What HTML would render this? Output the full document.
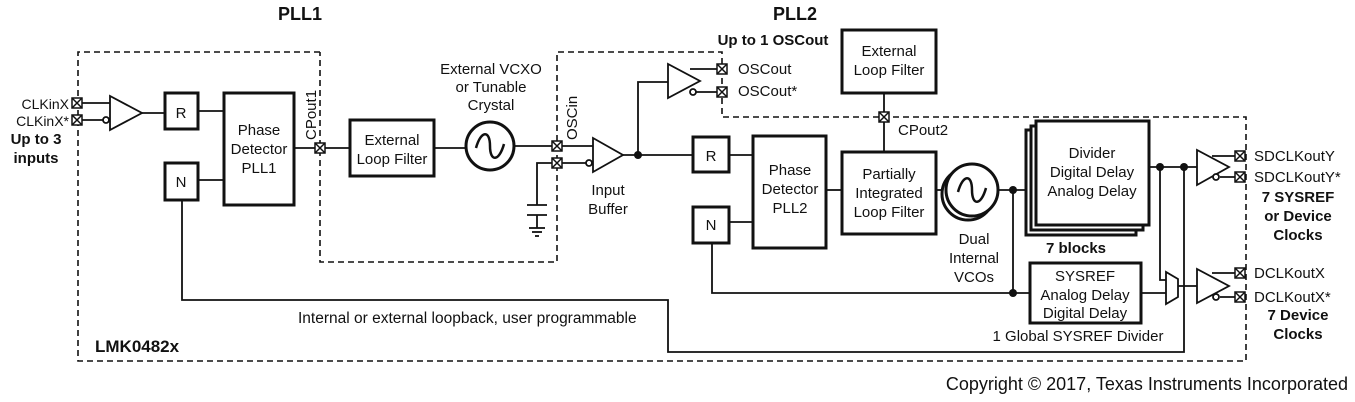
<!DOCTYPE html>
<html><head><meta charset="utf-8"><style>
html,body{margin:0;padding:0;background:#fff}
svg{display:block}
text{font-family:"Liberation Sans",sans-serif;font-size:15px;fill:#111}
.b{font-weight:bold}
</style></head><body>
<svg width="1355" height="402" viewBox="0 0 1355 402" xmlns="http://www.w3.org/2000/svg">
<defs>
<g id="p"><rect x="-5" y="-5" width="10" height="10"/><path d="M-5,-5 L5,5 M5,-5 L-5,5"/></g>
</defs>
<g fill="none" stroke="#111" stroke-width="1.6" stroke-dasharray="6,4">
<polyline points="320,52 78,52 78,361 1246,361 1246,117 722,117 722,52 557,52 557,262 320,262 320,52"/>
</g>
<g fill="none" stroke="#111" stroke-width="1.8">
<polyline points="80,103 110,103"/>
<polyline points="80,120 106,120"/>
<polygon points="110,96 110,130 142,113"/>
<line x1="142" y1="113" x2="165" y2="113"/>
<line x1="198" y1="111" x2="224" y2="111"/>
<line x1="198" y1="180" x2="224" y2="180"/>
<line x1="294" y1="148" x2="350" y2="148"/>
<line x1="434" y1="148" x2="466" y2="148"/>
<line x1="514" y1="146" x2="593" y2="146"/>
<polyline points="557,163 537,163 537,205"/>
<line x1="527" y1="205" x2="547" y2="205"/>
<line x1="527" y1="215" x2="547" y2="215"/>
<polyline points="537,215 537,228"/>
<line x1="529" y1="228" x2="545" y2="228"/>
<line x1="532" y1="232" x2="542" y2="232"/>
<line x1="535" y1="236" x2="539" y2="236"/>
<line x1="557" y1="163" x2="589" y2="163"/>
<polygon points="593,138 593,172 623,155"/>
<line x1="623" y1="155" x2="693" y2="155"/>
<polyline points="638,155 638,82 668,82"/>
<polygon points="668,64 668,98 700,81"/>
<line x1="690" y1="69" x2="722" y2="69"/>
<line x1="694" y1="92" x2="722" y2="92"/>
<line x1="884" y1="93" x2="884" y2="152"/>
<line x1="729" y1="155" x2="753" y2="155"/>
<line x1="729" y1="222" x2="753" y2="222"/>
<line x1="826" y1="190" x2="842" y2="190"/>
<line x1="936" y1="190" x2="945" y2="190"/>
<line x1="999" y1="190" x2="1036" y2="190"/>
<polyline points="712,243 712,293 1030,293"/>
<line x1="1013" y1="190" x2="1013" y2="293"/>
<line x1="1149" y1="167" x2="1197" y2="167"/>
<polygon points="1197,150 1197,185 1229,167"/>
<line x1="1212" y1="156" x2="1240" y2="156"/>
<line x1="1220" y1="177" x2="1240" y2="177"/>
<polyline points="1160,167 1160,280 1166,280"/>
<line x1="1141" y1="293" x2="1166" y2="293"/>
<polygon points="1166,272 1166,304 1178,297 1178,279"/>
<line x1="1178" y1="286" x2="1197" y2="286"/>
<polygon points="1197,269 1197,303 1229,286"/>
<line x1="1212" y1="273" x2="1240" y2="273"/>
<line x1="1220" y1="297" x2="1240" y2="297"/>
<polyline points="182,200 182,300 668,300 668,352 1184,352 1184,167"/>
</g>
<g fill="#fff" stroke="#111" stroke-width="1.8">
<circle cx="106" cy="120" r="3"/><circle cx="589" cy="163" r="3"/><circle cx="693" cy="92" r="3"/>
<circle cx="1216" cy="177" r="3"/><circle cx="1216" cy="297" r="3"/>
</g>
<g fill="#fff" stroke="#111" stroke-width="3">
<rect x="165" y="93" width="33" height="36"/>
<rect x="165" y="163" width="33" height="37"/>
<rect x="224" y="93" width="70" height="112"/>
<rect x="350" y="120" width="84" height="56"/>
<circle cx="490" cy="146" r="24"/>
<rect x="842" y="30" width="94" height="63"/>
<rect x="693" y="137" width="36" height="35"/>
<rect x="693" y="207" width="36" height="36"/>
<rect x="753" y="136" width="73" height="112"/>
<rect x="842" y="152" width="94" height="82"/>
<circle cx="968" cy="194" r="26"/>
<circle cx="972" cy="190" r="26"/>
<rect x="1026" y="130" width="110" height="105"/>
<rect x="1031" y="126" width="112" height="104"/>
<rect x="1036" y="121" width="113" height="104"/>
<rect x="1030" y="263" width="111" height="60"/>
</g>
<path d="M958,192 C963,174 972,174 972,190 C972,206 981,206 986,188" fill="none" stroke="#111" stroke-width="2.5"/>
<path d="M476,148 C481,130 490,130 490,146 C490,162 499,162 504,144" fill="none" stroke="#111" stroke-width="2.5"/>
<g fill="#111">
<circle cx="638" cy="155" r="4"/><circle cx="1013" cy="190" r="4"/><circle cx="1013" cy="293" r="4"/>
<circle cx="1160" cy="167" r="4"/><circle cx="1184" cy="167" r="4"/>
</g>
<g fill="#fff" stroke="#111" stroke-width="1.5">
<use href="#p" x="77" y="103"/><use href="#p" x="77" y="120"/>
<use href="#p" x="320" y="148"/>
<use href="#p" x="557" y="146"/><use href="#p" x="557" y="163"/>
<use href="#p" x="722" y="69"/><use href="#p" x="722" y="92"/>
<use href="#p" x="884" y="117"/>
<use href="#p" x="1240" y="156"/><use href="#p" x="1240" y="177"/>
<use href="#p" x="1240" y="273"/><use href="#p" x="1240" y="297"/>
</g>
<text x="300" y="20" text-anchor="middle" class="b" style="font-size:18px">PLL1</text>
<text x="795" y="20" text-anchor="middle" class="b" style="font-size:18px">PLL2</text>
<text x="773" y="45" text-anchor="middle" class="b">Up to 1 OSCout</text>
<text x="69" y="109" text-anchor="end" style="font-size:14px">CLKinX</text>
<text x="69" y="126" text-anchor="end" style="font-size:14px">CLKinX*</text>
<text x="36" y="144" text-anchor="middle" class="b">Up to 3</text>
<text x="36" y="163" text-anchor="middle" class="b">inputs</text>
<text x="181" y="118" text-anchor="middle">R</text>
<text x="181" y="187" text-anchor="middle">N</text>
<text x="259" y="135" text-anchor="middle">Phase</text>
<text x="259" y="154" text-anchor="middle">Detector</text>
<text x="259" y="173" text-anchor="middle">PLL1</text>
<text transform="translate(316,140) rotate(-90)">CPout1</text>
<text x="392" y="145" text-anchor="middle">External</text>
<text x="392" y="164" text-anchor="middle">Loop Filter</text>
<text x="491" y="74" text-anchor="middle">External VCXO</text>
<text x="491" y="92" text-anchor="middle">or Tunable</text>
<text x="491" y="110" text-anchor="middle">Crystal</text>
<text transform="translate(577,140) rotate(-90)">OSCin</text>
<text x="608" y="195" text-anchor="middle">Input</text>
<text x="608" y="214" text-anchor="middle">Buffer</text>
<text x="738" y="74">OSCout</text>
<text x="738" y="96">OSCout*</text>
<text x="889" y="56" text-anchor="middle">External</text>
<text x="889" y="75" text-anchor="middle">Loop Filter</text>
<text x="898" y="135">CPout2</text>
<text x="711" y="161" text-anchor="middle">R</text>
<text x="711" y="230" text-anchor="middle">N</text>
<text x="790" y="175" text-anchor="middle">Phase</text>
<text x="790" y="194" text-anchor="middle">Detector</text>
<text x="790" y="213" text-anchor="middle">PLL2</text>
<text x="889" y="179" text-anchor="middle">Partially</text>
<text x="889" y="198" text-anchor="middle">Integrated</text>
<text x="889" y="217" text-anchor="middle">Loop Filter</text>
<text x="974" y="244" text-anchor="middle">Dual</text>
<text x="974" y="263" text-anchor="middle">Internal</text>
<text x="974" y="282" text-anchor="middle">VCOs</text>
<text x="1092" y="158" text-anchor="middle">Divider</text>
<text x="1092" y="177" text-anchor="middle">Digital Delay</text>
<text x="1092" y="196" text-anchor="middle">Analog Delay</text>
<text x="1076" y="253" text-anchor="middle" class="b">7 blocks</text>
<text x="1085" y="281" text-anchor="middle">SYSREF</text>
<text x="1085" y="300" text-anchor="middle">Analog Delay</text>
<text x="1085" y="318" text-anchor="middle">Digital Delay</text>
<text x="1078" y="341" text-anchor="middle">1 Global SYSREF Divider</text>
<text x="1254" y="161">SDCLKoutY</text>
<text x="1254" y="182">SDCLKoutY*</text>
<text x="1298" y="202" text-anchor="middle" class="b">7 SYSREF</text>
<text x="1298" y="221" text-anchor="middle" class="b">or Device</text>
<text x="1298" y="240" text-anchor="middle" class="b">Clocks</text>
<text x="1254" y="278">DCLKoutX</text>
<text x="1254" y="302">DCLKoutX*</text>
<text x="1298" y="320" text-anchor="middle" class="b">7 Device</text>
<text x="1298" y="339" text-anchor="middle" class="b">Clocks</text>
<text x="298" y="323" style="font-size:15.5px">Internal or external loopback, user programmable</text>
<text x="95" y="352" class="b" style="font-size:17px">LMK0482x</text>
<text x="1348" y="390" text-anchor="end" style="font-size:18px">Copyright © 2017, Texas Instruments Incorporated</text>
</svg>
</body></html>
